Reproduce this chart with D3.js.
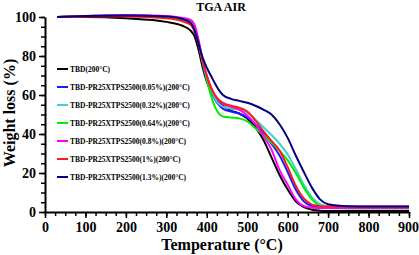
<!DOCTYPE html>
<html>
<head>
<meta charset="utf-8">
<script src="https://cdn.jsdelivr.net/npm/d3@7"></script>
<style>
body { margin: 0; background: #fff; }
svg text { font-family: "Liberation Serif", "Times New Roman", serif; font-weight: bold; }
</style>
</head>
<body>
<div class="content"></div>
<script>
// temperature points (°C) shared by every curve
var temps = [30, 100, 200, 300, 340, 360, 370, 380, 390, 400, 410, 420, 430, 440, 460, 480, 500, 520, 540, 560, 580, 600, 620, 640, 660, 680, 700, 750, 800, 900];

// weight (%)
var tbd    = [100, 100, 99.3, 97.5, 95.5, 93, 90, 83, 74, 67, 62, 58.5, 56, 54.5, 52, 50.5, 48, 43.5, 37, 28, 19, 11.5, 5.5, 2.5, 1.2, 0.7, 0.5, 0.5, 0.5, 0.5];
var pr005  = [100, 100.5, 100.8, 100, 99, 97.5, 94, 86, 76, 68, 62.5, 58, 55, 53, 51.5, 50.5, 48.5, 45, 40.5, 35, 29, 20.5, 11.5, 5.5, 3, 2.5, 2.4, 2.3, 2.3, 2.3];
var pr032  = [100, 100.5, 100.8, 100, 99, 97.5, 94.5, 87, 77, 69, 63, 58.5, 55.5, 54, 53, 52.5, 51, 47.5, 43.5, 39.5, 35, 29.5, 22, 14, 7.5, 4, 3, 2.7, 2.6, 2.6];
var pr064  = [100, 100.5, 100.8, 100, 99.3, 98, 95, 87, 77, 68, 60, 54, 50.5, 49, 48.5, 48, 46.5, 43, 39.5, 35.5, 31.5, 26.5, 20, 12.5, 6.5, 3, 2, 1.8, 1.8, 1.8];
var pr08   = [100, 100.5, 101, 100.5, 99.5, 98.5, 96, 88, 78, 70, 64, 60, 57, 55.5, 54, 52.5, 49.5, 45, 39, 32, 21.5, 14, 6.5, 3, 2.2, 2, 2, 2, 2, 2];
var pr1    = [100, 100.3, 100.3, 99.3, 97.8, 96, 92.5, 86, 77, 70, 64, 60, 57.5, 56, 54.5, 53.5, 51.5, 47, 41.5, 36.5, 31.5, 23, 13.5, 7, 3.8, 3, 2.8, 2.8, 2.8, 2.8];
var pr13   = [100, 100.5, 100.8, 100.2, 99, 97, 93, 86, 79, 74, 70, 66, 62.5, 60, 58, 57, 56, 54.5, 52.5, 50, 45, 38, 29, 20.5, 12.5, 6.5, 4, 3, 2.8, 2.8];

var seriesNames = ["TBD(200°C)", "TBD-PR25XTPS2500(0.05%)(200°C)", "TBD-PR25XTPS2500(0.32%)(200°C)",
  "TBD-PR25XTPS2500(0.64%)(200°C)", "TBD-PR25XTPS2500(0.8%)(200°C)", "TBD-PR25XTPS2500(1%)(200°C)",
  "TBD-PR25XTPS2500(1.3%)(200°C)"];
var seriesValues = [tbd, pr005, pr032, pr064, pr08, pr1, pr13];
var seriesColors = ["#000000", "#1a1aff", "#40d0d0", "#00ee00", "#ff00ff", "#ff1a1a", "#000080"];

var xTicks = [0, 100, 200, 300, 400, 500, 600, 700, 800, 900];
var yTicks = [0, 20, 40, 60, 80, 100];

var serif = "'Liberation Serif', 'Times New Roman', serif";
var width = 419, height = 255;
var svg = d3.select(".content").append("svg").attr("width", width).attr("height", height)
  .attr("font-family", serif).attr("font-weight", "bold");

var x = d3.scaleLinear().domain([0, 900]).range([45, 409]);
var y = d3.scaleLinear().domain([0, 100]).range([212, 17]);

// minor ticks first, then major
svg.append("g").attr("transform", "translate(0,212)")
  .call(d3.axisBottom(x).tickValues(d3.range(0, 901, 25)).tickSize(4).tickFormat(""))
  .call(function(g){ g.select(".domain").remove(); g.selectAll("line").attr("stroke-width", 1.5); });
svg.append("g").attr("transform", "translate(45,0)")
  .call(d3.axisLeft(y).tickValues(d3.range(0, 101, 5)).tickSize(4).tickFormat(""))
  .call(function(g){ g.select(".domain").remove(); g.selectAll("line").attr("stroke-width", 1.5); });

var xa = svg.append("g").attr("transform", "translate(0,212)")
  .call(d3.axisBottom(x).tickValues(xTicks).tickSize(6).tickSizeOuter(0).tickPadding(4));
var ya = svg.append("g").attr("transform", "translate(45,0)")
  .call(d3.axisLeft(y).tickValues(yTicks).tickSize(6).tickSizeOuter(0).tickPadding(3));
[xa, ya].forEach(function(g){
  g.attr("font-family", serif).attr("font-size", 14);
  g.select(".domain").attr("stroke-width", 2);
  g.selectAll("line").attr("stroke-width", 1.5);
  g.selectAll("text").attr("fill", "#000").attr("font-family", serif).attr("font-weight", "bold");
});
// keep the last label inside the window
xa.selectAll(".tick text").filter(function(d){ return d === 900; }).attr("dx", -1);

var line = d3.line()
  .x(function(d){ return x(d[0]); })
  .y(function(d){ return y(d[1]); })
  .curve(d3.curveMonotoneX);

seriesValues.forEach(function(vals, i){
  var pts = temps.map(function(t, j){ return [t, vals[j]]; });
  svg.append("path").datum(pts).attr("d", line)
    .attr("fill", "none").attr("stroke", seriesColors[i]).attr("stroke-width", 2);
});

// legend
var leg = svg.append("g");
seriesNames.forEach(function(n, i){
  var yy = 69 + i * 18;
  leg.append("line").attr("x1", 57).attr("x2", 68).attr("y1", yy).attr("y2", yy)
    .attr("stroke", seriesColors[i]).attr("stroke-width", 2);
  leg.append("text").attr("x", 70).attr("y", yy + 2.5).attr("font-size", 7.5).text(n);
});

svg.append("text").attr("x", 221).attr("y", 11).attr("text-anchor", "middle")
  .attr("font-size", 12).text("TGA AIR");
svg.append("text").attr("x", 222).attr("y", 250).attr("text-anchor", "middle")
  .attr("font-size", 16).text("Temperature (°C)");
svg.append("text").attr("transform", "translate(15,113) rotate(-90)").attr("text-anchor", "middle")
  .attr("font-size", 16).text("Weight loss (%)");
</script>
</body>
</html>
